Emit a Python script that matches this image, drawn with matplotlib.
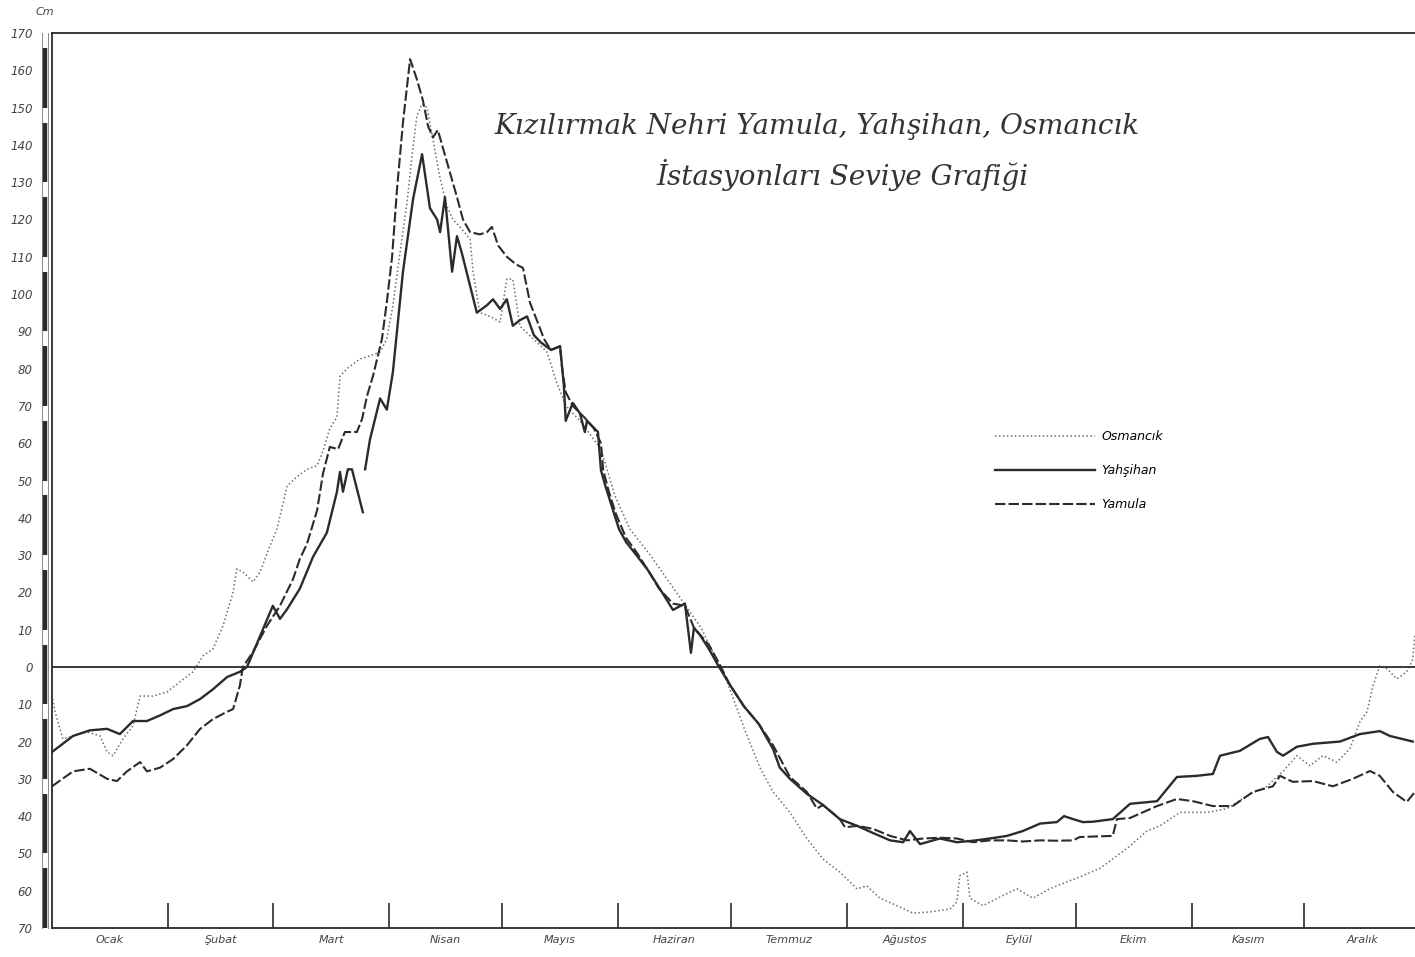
import numpy as np
import matplotlib
matplotlib.use("Agg")
import matplotlib.pyplot as plt
import matplotlib.transforms as mtransforms

# --- veri: gun (yilin gunu) ve seviye (cm) ---
yamula_gun = [0, 5.6, 10.1, 14.7, 17.3, 20, 23.5, 25.3, 28.8, 32.3, 36, 39.5, 42.9, 46.7, 48.3,
              50.1, 50.9, 53.6, 57.3, 60.8, 64.3, 66.1, 68, 70.7, 72.3, 74.1, 76.3, 78.1, 81.3,
              82.7, 84, 85.6, 86.9, 88, 89.3, 90.7, 92, 93.6, 95.5, 97.3, 98.9, 100.3, 101.6,
              102.9, 104.3, 106.1, 108, 109.6, 111.5, 114.1, 116, 117.3, 119, 121.3, 123.7,
              125.6, 127.5, 129.3, 131.2, 133, 135.5, 136, 137, 138.9, 141.9, 144.5, 146.4, 147,
              148.5, 150.4, 153.1, 156, 158.9, 161.9, 165.6, 168.8, 171.2, 175.2, 177.9, 180.8,
              184.5, 188.5, 192.3, 196.8, 201.3, 204, 205.6, 210.1, 211.5, 214.7, 218.9, 223.5,
              228, 232.3, 236.8, 241.3, 245.6, 250.1, 254.7, 258.9, 263.5, 268, 272.3, 274.1,
              282.9, 284, 287.5, 294.7, 300, 304.3, 309.6, 314.9, 320.3, 325.6, 327.5, 330.9,
              336.3, 341.6, 346.9, 351.5, 354.1, 357.6, 361.3, 363.5]
yamula_cm = [-32, -28, -27.3, -30, -30.6, -28, -25.5, -28, -27, -24.7, -21, -16.6, -14, -12, -11.3,
             -5, 0, 4, 11, 16.4, 23.6, 29, 33, 42, 52, 59, 58.4, 63, 63,
             66.5, 72.6, 78, 83.4, 88, 97.9, 110, 128, 146, 163, 157.6, 152, 145, 142,
             144, 139, 132.7, 126, 120, 116.6, 116, 116.6, 118, 113, 110, 108,
             107, 97.6, 93, 88, 85, 86, 80.4, 73.7, 70, 67, 64, 60, 52.8,
             47, 41, 34.6, 30.6, 26, 21, 17, 16.4, 10.5, 5.9, 1, -4.8,
             -10.5, -15.3, -21, -29.5, -33.5, -38, -37, -40.8, -43, -42.6, -43.4, -45.3,
             -46.5, -46, -45.8, -46, -47, -46.5, -46.5, -46.8, -46.5, -46.6, -46.5, -45.6,
             -45.3, -40.8, -40.5, -37.3, -35.4, -36, -37.3, -37.3, -33.5, -32, -29.2, -30.8,
             -30.6, -32, -30, -27.9, -29.2, -33.5, -36.2, -33.5]

yahsihan_gun = [0, 5.6, 10.1, 14.7, 18.1, 21.6, 25.3, 28.8, 32.3, 36, 39.5, 42.9, 46.7, 50.1, 52,
                55.5, 58.9, 60.8, 62.7, 66.1, 69.6, 73.3, 76, 76.8, 77.6, 78.9, 80, 82.9, 83.2,
                83.5, 84.8, 87.5, 89.3, 90.9, 93.6, 96.3, 98.7, 100.8, 102.7, 103.5, 104.8, 106.7,
                108, 109.3, 113.3, 116, 117.6, 119.5, 121.3, 122.9, 124.8, 126.7, 128.5, 130.4,
                133.1, 135.5, 136.5, 137, 138.9, 140.8, 142.1, 142.7, 145.6, 146.4, 147.5, 151.2,
                153.1, 156, 158.9, 162.7, 165.6, 168.8, 170.4, 171.2, 172.8, 175.2, 177.9, 180.8,
                184.5, 188.5, 192.3, 194.1, 196.8, 201.3, 205.6, 210.1, 214.7, 218.9, 223.5, 227,
                228.8, 231.5, 236.8, 241.3, 245.6, 250.1, 254.7, 258.9, 263.5, 268, 269.9, 272.3,
                274.9, 277.6, 282.9, 287.5, 294.7, 300, 305.3, 309.6, 311.5, 316.8, 322.1, 324.3,
                326.7, 328.3, 332, 336.3, 343.5, 348.8, 354.1, 356.8, 362.9]
yahsihan_cm = [-22.8, -18.5, -17, -16.6, -18, -14.5, -14.5, -13, -11.3, -10.5, -8.6, -6, -2.7, -1.3, 0,
               8.3, 16.4, 12.9, 15.5, 21, 29.5, 36, 47, 52.3, 47, 53, 53, 41.5, np.nan,
               53, 61, 72, 69, 79, 106, 125.5, 137.5, 123, 120, 116.6, 126, 106,
               115.5, 111, 95, 97, 98.6, 96, 98.6, 91.5, 93, 94, 89, 87,
               85, 86, 75.6, 66, 70.8, 68, 63, 66, 63, 52.8, 48.8, 37,
               33.5, 29.8, 26, 20, 15.3, 17, 3.8, 10.5, 8.6, 4.8, 0, -4.8,
               -10.5, -15.3, -22, -27, -30, -34, -37, -40.8, -42.6, -44.5, -46.5, -47,
               -44, -47.5, -46, -47, -46.6, -46, -45.3, -44, -42, -41.6, -40, -40.8,
               -41.6, -41.5, -40.8, -36.7, -36, -29.5, -29.2, -28.7, -23.8, -22.5, -19.3, -18.8,
               -22.8, -23.8, -21.4, -20.6, -20, -18, -17.2, -18.5, -20]

osmancik_gun = [0, 0.8, 2.9, 5.6, 9.3, 12.8, 14.7, 16.3, 18.9, 21.6, 23.5, 26.9, 30.7, 34.1, 37.6,
                40.3, 42.9, 45.6, 48.3, 49.3, 50.9, 53.6, 55.5, 58.1, 60, 62.7, 65.3, 68, 70.7,
                72.3, 74.1, 76, 76.8, 78.7, 82.1, 84.8, 87.5, 89.3, 90.9, 92.8, 94.7, 96, 97.3,
                98.7, 100, 101.6, 103.5, 105.3, 106.9, 108.8, 111.5, 112.3, 114.1, 116.8, 119.5,
                121.3, 122.9, 124.8, 128.3, 132, 134.7, 137.1, 140.8, 146.4, 150.1, 154.1, 159.7,
                173.1, 179.7, 184.8, 188.8, 192.3, 196.8, 201.3, 205.6, 210.1, 214.7, 217.3, 220.8,
                225.3, 229.6, 234.1, 239.5, 241.3, 242.1, 244, 244.8, 248.3, 252.8, 257.3, 261.6,
                266.1, 270.7, 274.9, 279.5, 287.5, 292, 295.5, 300.8, 308, 313.3, 318.7, 324, 328.3,
                332, 335.5, 338.9, 342.7, 346.1, 348.8, 350.7, 352.3, 354.1, 356, 358.7, 361.3,
                362.9, 363.5]
osmancik_cm = [-7.5, -12, -19.3, -18.5, -17.4, -18.5, -22.8, -23.8, -19.3, -15.8, -7.8, -7.8, -6.7, -4, -1.3,
               3, 4.8, 11, 20, 26.3, 25.5, 22.8, 25.5, 32.4, 37, 48.5, 51, 53, 54,
               58, 64, 67, 78, 80, 82.6, 83.4, 84.5, 88, 96.8, 111, 124.7, 137, 147.7,
               151, 150, 141.5, 131, 123.6, 120, 118, 114.7, 106, 95, 94, 92.5,
               104, 104, 91.4, 88, 84.5, 76, 70, 66, 58.4, 46, 37, 29.8,
               10.5, -3, -17, -27, -33.5, -39, -46, -51.5, -55, -59.5, -58.7, -62,
               -64, -66, -65.7, -64.9, -63, -56, -55, -62, -64, -61.7, -59.5, -62,
               -59.5, -57.6, -56, -54, -48, -44, -42.6, -39, -39, -38, -34.6, -32, -28,
               -23.8, -26.5, -23.8, -25.5, -22, -14.7, -12, -5, 0.3, -0.5, -3.2, -1.3,
               2, 9]

ay_sinirlari = [31, 59, 90, 120, 151, 181, 212, 243, 273, 304, 334]
ay_ortalari = [15.5, 45, 74.5, 105, 135.5, 166, 196.5, 227.5, 258, 288.5, 319, 349.5]
ay_adlari = ["Ocak", "Şubat", "Mart", "Nisan", "Mayıs", "Haziran", "Temmuz",
             "Ağustos", "Eylül", "Ekim", "Kasım", "Aralık"]
y_tikleri = list(range(-70, 171, 10))

KOYU = "#2b2b2b"
GRI = "#6e6e6e"

fig = plt.figure(figsize=(14.15, 9.57), dpi=100)
ax = fig.add_axes([52 / 1415, 1 - 928 / 957, 1 - 52 / 1415, (928 - 33) / 957])

ax.plot(osmancik_gun, osmancik_cm, color=GRI, lw=1.1, linestyle=(0, (1, 1.6)), label="Osmancık")
ax.plot(yahsihan_gun, yahsihan_cm, color=KOYU, lw=1.7, label="Yahşihan")
ax.plot(yamula_gun, yamula_cm, color=KOYU, lw=1.5, linestyle=(0, (5, 1.5)), label="Yamula")

ax.axhline(0, color=KOYU, lw=1.3)

ax.set_xlim(0, 363.5)
ax.set_ylim(-70, 170)

ax.spines["right"].set_visible(False)
for s in ["top", "bottom", "left"]:
    ax.spines[s].set_color(KOYU)
    ax.spines[s].set_linewidth(1.3)

# sol taraftaki olcek cubugu: ince cift cizgi, arasi yer yer dolu
trans = mtransforms.blended_transform_factory(ax.transAxes, ax.transData)
for dx in (-10, -4):
    ax.plot([dx / 1363, dx / 1363], [-70, 170], transform=trans, clip_on=False,
            color="#888888", lw=0.7)
for v in range(-70, 170, 20):
    ax.plot([-7 / 1363, -7 / 1363], [v, min(v + 16, 170)], transform=trans, clip_on=False,
            color=KOYU, lw=3.2, solid_capstyle="butt")

ax.set_yticks(y_tikleri)
ax.set_yticklabels([str(abs(v)) for v in y_tikleri], fontsize=8.5, style="italic", color="#444444")
ax.tick_params(axis="y", length=0, pad=14)

ax.set_xticks(ay_sinirlari)
ax.set_xticklabels([])
ax.tick_params(axis="x", which="major", direction="in", length=18, width=1.2, color=KOYU)
ax.set_xticks(ay_ortalari, minor=True)
ax.set_xticklabels(ay_adlari, minor=True, fontsize=8, style="italic", color="#444444")
ax.tick_params(axis="x", which="minor", length=0, pad=5)

fig.text(45 / 1415, 1 - 12 / 957, "Cm", fontsize=8, style="italic", color="#444444",
         ha="center", va="center")

fig.text(817 / 1415, 1 - 127 / 957, "Kızılırmak Nehri Yamula, Yahşihan, Osmancık",
         family="DejaVu Serif", style="italic", fontsize=20, color="#333333",
         ha="center", va="center")
fig.text(842 / 1415, 1 - 175 / 957, "İstasyonları Seviye Grafiği",
         family="DejaVu Serif", style="italic", fontsize=20, color="#333333",
         ha="center", va="center")

fig.legend(loc="upper left", bbox_to_anchor=(995 / 1415, 1 - 430 / 957), frameon=False,
           handlelength=8, labelspacing=1.7, borderpad=0, borderaxespad=0, handletextpad=0.5,
           prop={"size": 9, "style": "italic"})

fig.savefig("out.png", dpi=100)
